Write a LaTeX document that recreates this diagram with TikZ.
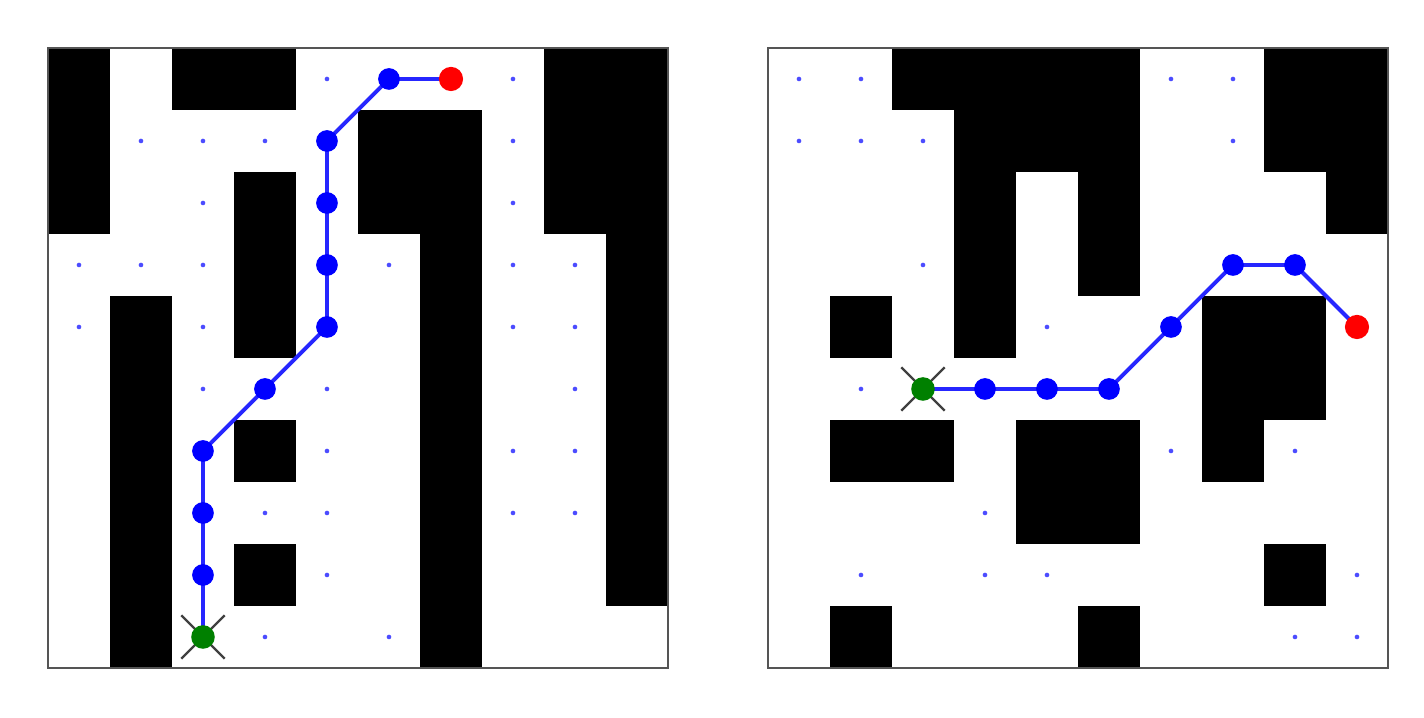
\documentclass[tikz,border=0pt]{standalone}
\usepackage{xcolor}
\usepackage{tikz}
\usetikzlibrary{positioning, calc}
\definecolor{pathblue}{RGB}{0, 0, 255}
\definecolor{goalred}{RGB}{255, 0, 0}
\definecolor{startgreen}{RGB}{0, 128, 0}
\definecolor{framegray}{RGB}{85, 85, 85}
\pgfdeclarelayer{bg}
\pgfsetlayers{bg,main}
\tikzset{
    wall/.style={fill=black},
    frame/.style={draw=framegray, line width=1pt},
    route/.style={draw=pathblue!85, line width=1.8pt},
    waypt/.style={circle, fill=pathblue, inner sep=0pt, minimum size=0.35cm},
    seen/.style={circle, fill=pathblue!70, inner sep=0pt, minimum size=0.075cm},
    startpt/.style={circle, fill=startgreen, inner sep=0pt, minimum size=0.38cm},
    goalpt/.style={circle, fill=goalred, inner sep=0pt, minimum size=0.39cm},
    cross/.style={draw=black!75, line width=1.1pt}
}

\begin{document}
\begin{tikzpicture}
    \useasboundingbox (-0.774,-0.806) rectangle (22.194,10.774);

    % left map
    \begin{scope}[xshift=0cm]
        \begin{pgfonlayer}{bg}
            % obstacles
            \foreach \a/\b/\c/\d in {0/7/1/10, 1/0/2/6, 2/9/4/10, 3/5/4/8, 3/3/4/4, 3/1/4/2,
                                     5/7/7/9, 6/0/7/7, 8/7/10/10, 9/1/10/7}
                \fill[wall] (\a,\b) rectangle (\c,\d);
        \end{pgfonlayer}
        \draw[frame] (0,0) rectangle (10,10);

        % visited cells
        \foreach \x/\y [count=\i] in {4.5/9.5, 7.5/9.5, 1.5/8.5, 2.5/8.5, 3.5/8.5, 7.5/8.5,
                                      2.5/7.5, 7.5/7.5, 0.5/6.5, 1.5/6.5, 2.5/6.5, 5.5/6.5,
                                      7.5/6.5, 8.5/6.5, 0.5/5.5, 2.5/5.5, 7.5/5.5, 8.5/5.5,
                                      2.5/4.5, 4.5/4.5, 8.5/4.5, 4.5/3.5, 7.5/3.5, 8.5/3.5,
                                      3.5/2.5, 4.5/2.5, 7.5/2.5, 8.5/2.5, 4.5/1.5, 3.5/0.5, 5.5/0.5}
            \node[seen] (lv\i) at (\x,\y) {};

        % path
        \node[startpt] (l1) at (2.5,0.5) {};
        \foreach \x/\y [count=\i from 2] in {2.5/1.5, 2.5/2.5, 2.5/3.5, 3.5/4.5, 4.5/5.5,
                                             4.5/6.5, 4.5/7.5, 4.5/8.5, 5.5/9.5}
            \node[waypt] (l\i) at (\x,\y) {};
        \node[goalpt] (l11) at (6.5,9.5) {};
        \begin{pgfonlayer}{bg}
            \draw[route] (l1.center) \foreach \i in {2,...,11} { -- (l\i.center) };
            \draw[cross] ($(l1)+(-0.35,-0.35)$) -- ($(l1)+(0.35,0.35)$)
                         ($(l1)+(-0.35,0.35)$) -- ($(l1)+(0.35,-0.35)$);
        \end{pgfonlayer}
    \end{scope}

    % right map
    \begin{scope}[xshift=11.613cm]
        \begin{pgfonlayer}{bg}
            % obstacles
            \foreach \a/\b/\c/\d in {2/9/6/10, 3/8/6/9, 3/5/4/8, 5/6/6/8, 8/8/10/10, 9/7/10/8,
                                     1/5/2/6, 7/4/9/6, 7/3/8/4, 1/3/3/4, 4/2/6/4, 8/1/9/2,
                                     1/0/2/1, 5/0/6/1}
                \fill[wall] (\a,\b) rectangle (\c,\d);
        \end{pgfonlayer}
        \draw[frame] (0,0) rectangle (10,10);

        % visited cells
        \foreach \x/\y [count=\i] in {0.5/9.5, 1.5/9.5, 6.5/9.5, 7.5/9.5, 0.5/8.5, 1.5/8.5,
                                      2.5/8.5, 7.5/8.5, 2.5/6.5, 4.5/5.5, 1.5/4.5, 6.5/3.5,
                                      8.5/3.5, 3.5/2.5, 1.5/1.5, 3.5/1.5, 4.5/1.5, 9.5/1.5,
                                      8.5/0.5, 9.5/0.5}
            \node[seen] (rv\i) at (\x,\y) {};

        % path
        \node[startpt] (r1) at (2.5,4.5) {};
        \foreach \x/\y [count=\i from 2] in {3.5/4.5, 4.5/4.5, 5.5/4.5, 6.5/5.5, 7.5/6.5, 8.5/6.5}
            \node[waypt] (r\i) at (\x,\y) {};
        \node[goalpt] (r8) at (9.5,5.5) {};
        \begin{pgfonlayer}{bg}
            \draw[route] (r1.center) \foreach \i in {2,...,8} { -- (r\i.center) };
            \draw[cross] ($(r1)+(-0.35,-0.35)$) -- ($(r1)+(0.35,0.35)$)
                         ($(r1)+(-0.35,0.35)$) -- ($(r1)+(0.35,-0.35)$);
        \end{pgfonlayer}
    \end{scope}
\end{tikzpicture}
\end{document}
